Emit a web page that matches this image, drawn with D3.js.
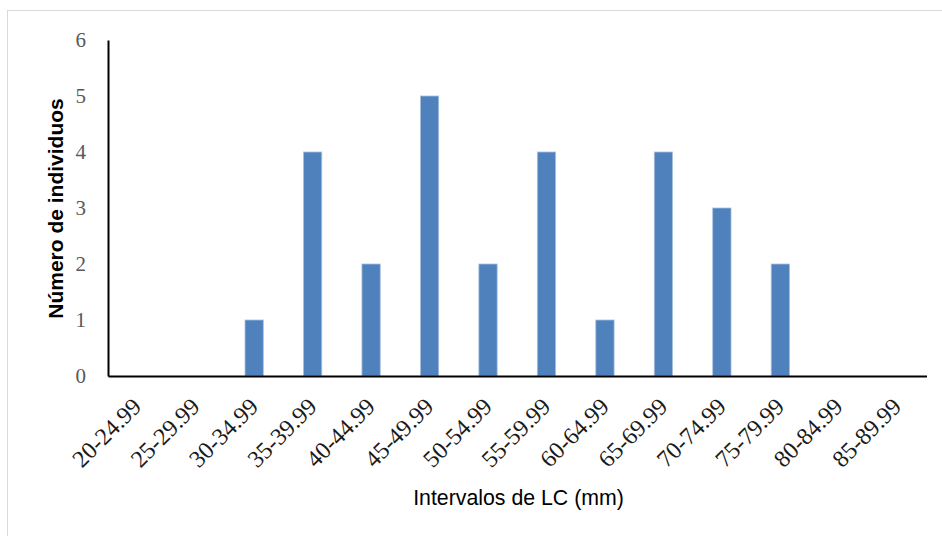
<!DOCTYPE html>
<html><head><meta charset="utf-8">
<script src="https://cdn.jsdelivr.net/npm/d3@7"></script>
<style>body{margin:0;background:#fff}svg{display:block}</style>
</head><body>
<svg id="c" width="942" height="536"></svg>
<script>
const categories = ["20-24.99","25-29.99","30-34.99","35-39.99","40-44.99","45-49.99","50-54.99","55-59.99","60-64.99","65-69.99","70-74.99","75-79.99","80-84.99","85-89.99"];
const counts = [0,0,1,4,2,5,2,4,1,4,3,2,0,0];
const yTicks = [0,1,2,3,4,5,6];

const svg = d3.select("#c");
svg.append("rect").attr("x",7.5).attr("y",10.5).attr("width",950).attr("height",600)
  .attr("fill","#fff").attr("stroke","#d9d9d9").attr("stroke-width",1);

const pL=108, pR=926.5, pT=40, pB=376;
const x = d3.scaleBand().domain(categories).range([pL,pR]).paddingInner(0.687).paddingOuter(0.3435);
const y = d3.scaleLinear().domain([0,6]).range([pB,pT]);

svg.append("g").selectAll("rect").data(counts).join("rect")
  .attr("x",(d,i)=>x(categories[i])).attr("width",x.bandwidth())
  .attr("y",d=>y(d)).attr("height",d=>pB-y(d))
  .attr("fill","#4f81bd").attr("stroke","#a8c1e0").attr("stroke-width",0.8);

const ya = svg.append("g").attr("transform",`translate(${pL},0)`)
  .call(d3.axisLeft(y).tickValues(yTicks).tickFormat(d3.format("d")).tickSize(0).tickPadding(22));
ya.select(".domain").attr("stroke","#000").attr("stroke-width",2);
ya.selectAll("text").attr("font-family","'Liberation Serif', serif").attr("font-size",21).attr("fill","#595959");

const xa = svg.append("g").attr("transform",`translate(0,${pB})`)
  .call(d3.axisBottom(x).tickSize(0).tickPadding(0));
xa.select(".domain").attr("stroke","#000").attr("stroke-width",2);
xa.selectAll("text").attr("font-family","'Liberation Serif', serif").attr("font-size",24).attr("fill","#1a1a1a")
  .attr("text-anchor","end").attr("dy",null).attr("y",0)
  .attr("transform","translate(5.5,32) rotate(-45)");

svg.append("text").attr("transform","translate(63,208.5) rotate(-90)")
  .attr("text-anchor","middle").attr("font-family","'Liberation Sans', Arial, sans-serif")
  .attr("font-weight","bold").attr("font-size",21).attr("fill","#000").text("Número de individuos");

svg.append("text").attr("x",518.5).attr("y",505)
  .attr("text-anchor","middle").attr("font-family","'Liberation Sans', Arial, sans-serif")
  .attr("font-size",21.3).attr("fill","#000").text("Intervalos de LC (mm)");
</script>
</body></html>
